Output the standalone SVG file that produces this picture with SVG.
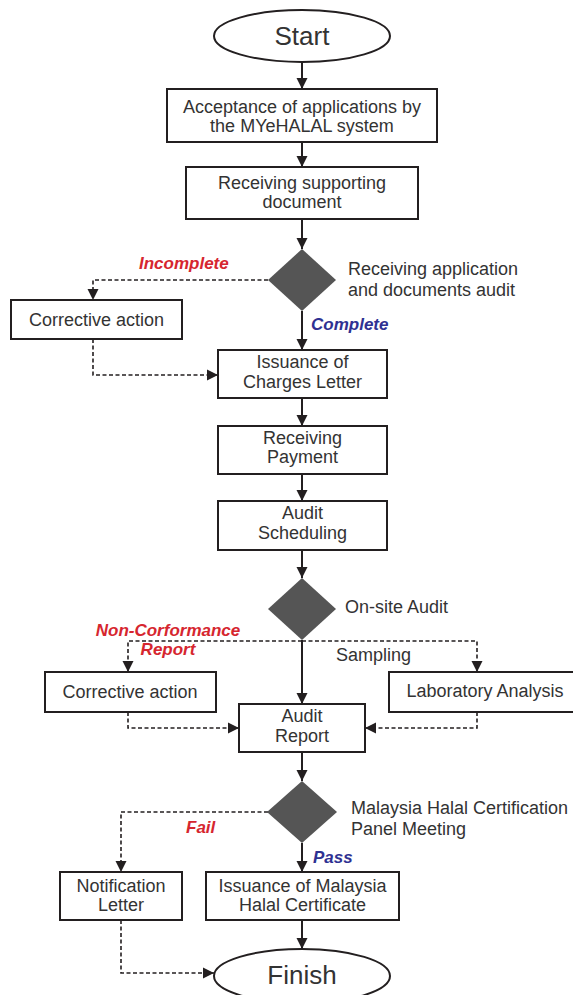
<svg xmlns="http://www.w3.org/2000/svg" width="573" height="995" viewBox="0 0 573 995">
<style>
.box{fill:#fff;stroke:#231f20;stroke-width:2}
.dia{fill:#555555;stroke:none}
.t{font-family:"Liberation Sans",Arial,sans-serif;font-size:18px;fill:#333333}
.c{text-anchor:middle}
.big{font-size:26px}
.red{font-family:"Liberation Sans",Arial,sans-serif;font-size:17px;font-weight:bold;font-style:italic;fill:#d6262f}
.blue{font-family:"Liberation Sans",Arial,sans-serif;font-size:17px;font-weight:bold;font-style:italic;fill:#2e3192}
.sol{fill:none;stroke:#231f20;stroke-width:2}
.dash{fill:none;stroke:#231f20;stroke-width:1.6;stroke-dasharray:4 2.5}
</style>
<defs>
<marker id="ah" markerUnits="userSpaceOnUse" markerWidth="12" markerHeight="12" refX="11" refY="6" orient="auto">
<path d="M0,0.5 L11,6 L0,11.5 z" fill="#231f20"/>
</marker>
</defs>
<rect width="573" height="995" fill="#fff"/>
<g id="connectors">
<line class="sol" x1="302" y1="62" x2="302" y2="89" marker-end="url(#ah)"/>
<line class="sol" x1="302" y1="142" x2="302" y2="167" marker-end="url(#ah)"/>
<line class="sol" x1="302" y1="219" x2="302" y2="249" marker-end="url(#ah)"/>
<line class="sol" x1="302" y1="311" x2="302" y2="350" marker-end="url(#ah)"/>
<line class="sol" x1="302" y1="398" x2="302" y2="426" marker-end="url(#ah)"/>
<line class="sol" x1="302" y1="474" x2="302" y2="501" marker-end="url(#ah)"/>
<line class="sol" x1="302" y1="550" x2="302" y2="578" marker-end="url(#ah)"/>
<line class="sol" x1="302" y1="640" x2="302" y2="704" marker-end="url(#ah)"/>
<line class="sol" x1="302" y1="752" x2="302" y2="781" marker-end="url(#ah)"/>
<line class="sol" x1="302" y1="843" x2="302" y2="872" marker-end="url(#ah)"/>
<line class="sol" x1="302" y1="920" x2="302" y2="949" marker-end="url(#ah)"/>
<polyline class="dash" points="268,280 93,280 93,300" marker-end="url(#ah)"/>
<polyline class="dash" points="93,339 93,375 218,375" marker-end="url(#ah)"/>
<polyline class="dash" points="302,641 128,641 128,672" marker-end="url(#ah)"/>
<polyline class="dash" points="302,641 477,641 477,672" marker-end="url(#ah)"/>
<polyline class="dash" points="128,712 128,728 239,728" marker-end="url(#ah)"/>
<polyline class="dash" points="477,712 477,728 365,728" marker-end="url(#ah)"/>
<polyline class="dash" points="268,812 121,812 121,872" marker-end="url(#ah)"/>
<polyline class="dash" points="121,920 121,973 214,973" marker-end="url(#ah)"/>
</g>
<g id="start"><ellipse class="box" cx="302" cy="36" rx="88" ry="26"/><text class="t c big" x="302" y="45">Start</text></g>
<g id="acceptance"><rect class="box" x="167" y="89" width="270" height="53"/><text class="t c" x="302" y="113">Acceptance of applications by</text><text class="t c" x="302" y="132">the MYeHALAL system</text></g>
<g id="supporting"><rect class="box" x="186" y="167" width="232" height="52"/><text class="t c" x="302" y="189">Receiving supporting</text><text class="t c" x="302" y="208">document</text></g>
<g id="audit-decision"><polygon class="dia" points="302,249 336,280 302,311 268,280"/><text class="t" x="348" y="275">Receiving application</text><text class="t" x="348" y="296">and documents audit</text></g>
<g id="incomplete-label"><text class="red" x="139" y="269">Incomplete</text></g>
<g id="complete-label"><text class="blue" x="311" y="330">Complete</text></g>
<g id="corrective1"><rect class="box" x="11" y="300" width="171" height="39"/><text class="t c" x="96.5" y="326">Corrective action</text></g>
<g id="charges"><rect class="box" x="218" y="350" width="169" height="48"/><text class="t c" x="302.5" y="368">Issuance of</text><text class="t c" x="302.5" y="388">Charges Letter</text></g>
<g id="payment"><rect class="box" x="218" y="426" width="169" height="48"/><text class="t c" x="302.5" y="444">Receiving</text><text class="t c" x="302.5" y="463">Payment</text></g>
<g id="scheduling"><rect class="box" x="218" y="501" width="169" height="49"/><text class="t c" x="302.5" y="519">Audit</text><text class="t c" x="302.5" y="539">Scheduling</text></g>
<g id="onsite"><polygon class="dia" points="302,578 336,609 302,640 268,609"/><text class="t" x="345" y="613">On-site Audit</text></g>
<g id="ncr-label"><text class="red c" x="168" y="636">Non-Corformance</text><text class="red c" x="168" y="655">Report</text></g>
<g id="sampling-label"><text class="t" x="336" y="661">Sampling</text></g>
<g id="corrective2"><rect class="box" x="45" y="672" width="171" height="40"/><text class="t c" x="130" y="698">Corrective action</text></g>
<g id="lab"><rect class="box" x="389" y="672" width="200" height="40"/><text class="t c" x="485" y="697">Laboratory Analysis</text></g>
<g id="audit-report"><rect class="box" x="239" y="704" width="126" height="48"/><text class="t c" x="302" y="722">Audit</text><text class="t c" x="302" y="742">Report</text></g>
<g id="panel"><polygon class="dia" points="302,781 337,812 302,843 267,812"/><text class="t" x="351" y="814">Malaysia Halal Certification</text><text class="t" x="351" y="835">Panel Meeting</text></g>
<g id="fail-label"><text class="red" x="186" y="833">Fail</text></g>
<g id="pass-label"><text class="blue" x="313" y="863">Pass</text></g>
<g id="notification"><rect class="box" x="60" y="872" width="122" height="48"/><text class="t c" x="121" y="892">Notification</text><text class="t c" x="121" y="911">Letter</text></g>
<g id="certificate"><rect class="box" x="206" y="872" width="193" height="48"/><text class="t c" x="302.5" y="892">Issuance of Malaysia</text><text class="t c" x="302.5" y="911">Halal Certificate</text></g>
<g id="finish"><ellipse class="box" cx="302" cy="976" rx="88" ry="27"/><text class="t c big" x="302" y="984">Finish</text></g>
</svg>
